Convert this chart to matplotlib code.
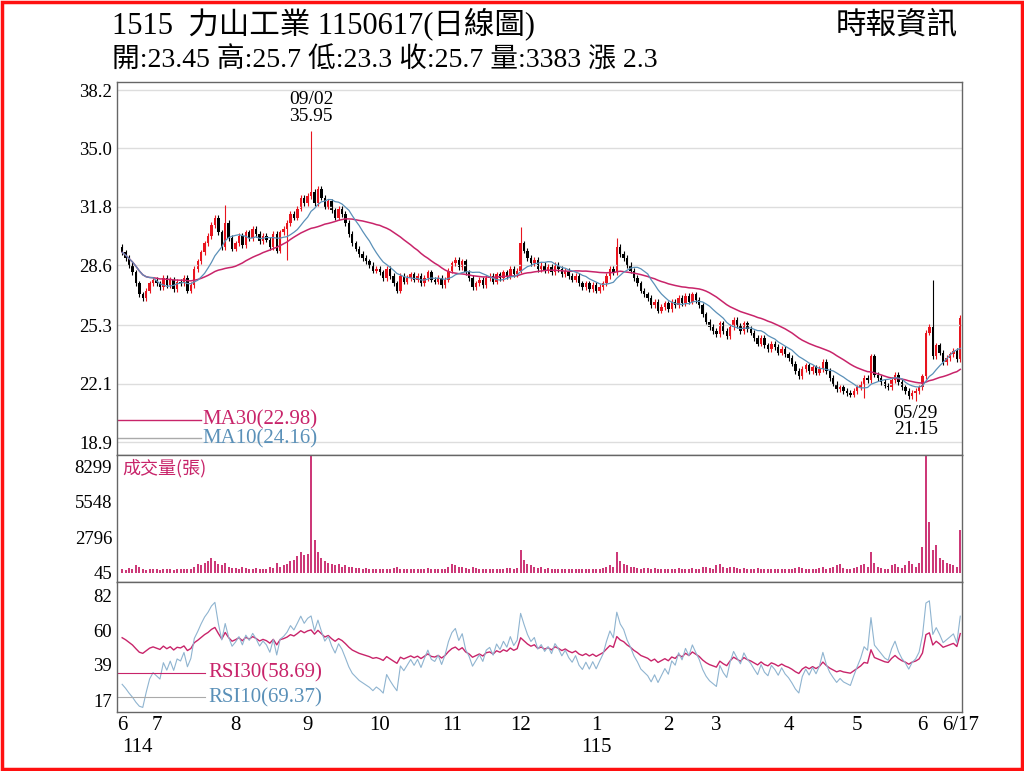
import numpy as np
import matplotlib
matplotlib.use("Agg")
import matplotlib.pyplot as plt
from matplotlib.patches import Rectangle

closes = [
29.3,29.0,28.6,28.2,27.6,27.0,26.8,27.2,27.6,27.8,
27.6,27.4,27.9,27.5,27.8,27.3,27.7,27.6,27.9,27.2,27.5,28.4,28.8,29.3,29.8,30.2,30.8,31.2,30.4,29.6,30.9,30.1,29.5,
29.8,30.2,29.7,30.4,30.1,30.6,30.3,29.9,30.2,30.0,29.6,30.3,29.4,30.4,30.6,30.9,31.4,31.2,31.7,32.3,32.0,
32.4,32.6,32.0,32.8,32.3,31.8,32.1,31.6,31.2,31.7,31.4,30.9,30.3,29.8,29.5,29.2,29.0,28.8,28.6,28.3,28.4,
28.2,27.9,28.4,28.0,27.6,27.2,28.0,27.7,27.9,28.1,27.8,28.0,27.6,27.9,28.2,27.8,27.7,27.9,27.5,27.8,28.3,
28.7,28.9,28.5,28.8,28.2,27.9,27.4,27.6,27.8,27.5,27.9,28.0,27.7,28.1,27.9,28.2,28.0,28.4,28.1,28.3,
29.8,29.4,29.0,28.7,28.9,28.4,28.6,28.3,28.5,28.2,28.6,28.4,28.1,28.3,28.0,27.8,28.0,27.6,27.4,27.6,27.3,27.5,
27.2,27.4,27.6,28.0,28.4,28.2,29.6,29.2,29.0,28.6,28.3,27.9,27.6,27.2,27.0,26.8,26.4,26.6,26.1,26.3,26.5,
26.2,26.6,26.4,26.8,26.5,26.9,26.6,27.0,26.7,26.4,25.9,25.5,25.2,25.0,
24.8,25.4,25.0,24.7,25.2,25.6,25.3,25.0,25.4,25.1,24.9,24.6,24.3,24.6,24.2,24.0,24.3,24.1,23.8,24.0,23.7,
23.5,23.2,22.8,22.5,22.9,23.1,22.8,23.0,22.7,22.9,23.3,22.8,22.4,22.1,21.8,21.9,21.7,21.6,21.5,21.7,
21.9,22.1,22.4,22.3,23.6,22.6,22.4,22.2,22.0,21.9,22.3,22.6,22.2,21.9,21.7,21.4,21.6,21.7,21.9,
22.5,24.9,25.2,23.6,24.2,23.8,23.3,23.5,23.7,23.9,23.45,25.7]
first_open = 29.6
special_high = {55: 35.95, 236: 27.8, 30: 31.9, 116: 30.7, 144: 30.1}
special_low = {231: 21.15, 48: 28.9, 216: 21.3}

volumes = [
300,250,400,350,600,500,300,250,300,280,
300,250,350,300,280,260,300,350,300,280,320,500,700,600,800,900,1200,900,700,600,800,500,400,
400,350,500,380,300,350,400,300,350,300,450,400,800,500,600,700,900,1000,1300,1600,1400,
1500,9300,2600,1600,1200,900,800,700,600,700,500,600,500,450,400,380,350,400,300,350,300,
300,280,350,300,400,500,350,300,280,320,300,280,350,300,400,300,280,300,350,300,500,
700,600,500,450,400,350,500,400,300,350,300,280,320,300,350,300,400,380,350,400,
1800,1000,700,600,500,400,450,350,400,300,350,300,280,300,320,300,280,350,300,280,300,350,
300,350,400,500,600,500,1600,900,700,600,500,450,400,350,400,380,350,400,300,280,300,
300,350,300,400,300,350,300,400,350,300,500,450,400,350,
600,700,500,400,450,500,400,350,400,350,300,350,400,350,300,280,350,300,280,300,280,
300,350,400,500,400,350,300,350,300,400,450,350,400,500,600,700,400,350,300,400,
500,600,700,500,1600,800,500,400,350,300,600,700,500,400,600,900,700,500,800,
2000,9300,4000,1800,2200,1200,1000,800,700,600,500,3383]

month_start = [0,10,33,54,75,96,116,138,159,173,194,214,233,244]
month_labels = ["6","7","8","9","10","11","12","1","2","3","4","5","6","6/17"]

closes = np.array(closes)
n = len(closes)
opens = np.concatenate([[first_open], closes[:-1]])
opens[-1] = 23.45
highs = np.maximum(opens, closes) + 0.15
lows = np.minimum(opens, closes) - 0.15
for k, v in special_high.items():
    if k < n: highs[k] = v
for k, v in special_low.items():
    if k < n: lows[k] = v
vol = np.array((volumes + [400]*n)[:n], dtype=float)
x = np.arange(n)

def ma(a, w):
    out = np.full(len(a), np.nan)
    for i in range(len(a)):
        out[i] = a[max(0, i-w+1):i+1].mean()
    return out

def rsi(a, w):
    d = np.diff(a, prepend=a[0])
    up = np.where(d > 0, d, 0.0); dn = np.where(d < 0, -d, 0.0)
    au, ad = up[1:w+1].mean() + 1e-9, dn[1:w+1].mean() + 1e-9
    out = np.full(len(a), np.nan)
    for i in range(len(a)):
        au = (au*(w-1) + up[i]) / w
        ad = (ad*(w-1) + dn[i]) / w
        out[i] = 100*au/(au+ad)
    return out

serif = ["Liberation Serif", "Noto Sans CJK TC"]
cjk = ["Noto Sans CJK TC", "Liberation Serif"]
RED = "#e8141e"; MAG = "#c8246a"; BLUE = "#5a90b8"
TS = 13.5

fig = plt.figure(figsize=(10.24, 7.71), dpi=100)
fig.add_artist(Rectangle((0.002, 0.002), 0.996, 0.996, transform=fig.transFigure,
                         fill=False, ec="#ff1010", lw=2.5))
L, W = 117/1024, 845/1024
ax1 = fig.add_axes([L, 1-455/771, W, 373/771])
ax2 = fig.add_axes([L, 1-582/771, W, 127/771], sharex=ax1)
ax3 = fig.add_axes([L, 1-712/771, W, 130/771], sharex=ax1)

for a in (ax1, ax2, ax3):
    for s in a.spines.values():
        s.set_color("#666"); s.set_linewidth(1)
    a.tick_params(length=0, labelsize=TS)

for i in x:
    up = closes[i] >= opens[i]
    c = RED if up else "black"
    ax1.vlines(i, lows[i], highs[i], color=c, lw=0.8)
    b0, b1 = min(opens[i], closes[i]), max(opens[i], closes[i])
    ax1.add_patch(Rectangle((i-0.35, b0), 0.7, max(b1-b0, 0.04), color=c, lw=0))
ax1.plot(x, ma(closes, 30), color=MAG, lw=1.1)
ax1.plot(x, ma(closes, 10), color=BLUE, lw=0.9)
yt = [18.9, 22.1, 25.3, 28.6, 31.8, 35.0, 38.2]
ax1.set_yticks(yt); ax1.set_yticklabels([f"{v:.1f}" for v in yt], family=serif, fontsize=TS)
ax1.set_ylim(18.19, 38.64)
ax1.grid(axis="y", color="#dddddd", lw=1)
ax1.set_xlim(-1.5, n-0.5)
ax1.tick_params(labelbottom=False)
ax1.text(55, 36.3, "09/02\n35.95", ha="center", va="bottom", family=serif, fontsize=14, linespacing=0.95)
ax1.text(231, 20.95, "05/29\n21.15", ha="center", va="top", family=serif, fontsize=14, linespacing=0.95)
ax1.plot([-1.5, 23], [20.1, 20.1], color=MAG, lw=1)
ax1.plot([-1.5, 23], [19.1, 19.1], color="#aaa", lw=1)
ax1.text(23.5, 20.1, "MA30(22.98)", color=MAG, va="center", family=serif, fontsize=15)
ax1.text(23.5, 19.05, "MA10(24.16)", color=BLUE, va="center", family=serif, fontsize=15)

ax2.vlines(x, 0, vol, color=MAG, lw=1.3)
ax2.set_ylim(-700, 9200)
vt = [45, 2796, 5548, 8299]
ax2.set_yticks(vt); ax2.set_yticklabels([str(v) for v in vt], family=serif, fontsize=TS)
ax2.tick_params(labelbottom=False)
ax2.text(0, 8900, "成交量(張)", color=MAG, va="top", family=cjk, fontsize=13)

ax3.plot(x, rsi(closes, 30), color=MAG, lw=1.0)
ax3.plot(x, rsi(closes, 10), color="#8fb4d0", lw=0.8)
ax3.set_ylim(10, 90)
rt = [17, 39, 60, 82]
ax3.set_yticks(rt); ax3.set_yticklabels([str(v) for v in rt], family=serif, fontsize=TS)
ax3.text(25, 34, "RSI30(58.69)", color=MAG, va="center", family=serif, fontsize=15)
ax3.text(25, 19, "RSI10(69.37)", color=BLUE, va="center", family=serif, fontsize=15)
ax3.plot([-1.5, 24], [34, 34], color=MAG, lw=0.8)
ax3.plot([-1.5, 24], [19, 19], color="#aaa", lw=0.8)
ax3.set_xticks(month_start); ax3.set_xticklabels(month_labels, family=serif, fontsize=15)
ax3.tick_params(axis="x", pad=3)
ax3.text(0, -0.2, "114", transform=ax3.get_xaxis_transform(), ha="left", va="top", family=serif, fontsize=15)
ax3.text(138, -0.2, "115", transform=ax3.get_xaxis_transform(), ha="center", va="top", family=serif, fontsize=15)

fig.text(112/1024, 1-24/771, "1515  力山工業 1150617(日線圖)", family=serif, fontsize=22, va="center")
fig.text(112/1024, 1-60/771, "開:23.45 高:25.7 低:23.3 收:25.7 量:3383 漲 2.3", family=serif, fontsize=20, va="center")
fig.text(958/1024, 1-26/771, "時報資訊", family=cjk, fontsize=22, va="center", ha="right")

fig.savefig("out.png", dpi=100)
